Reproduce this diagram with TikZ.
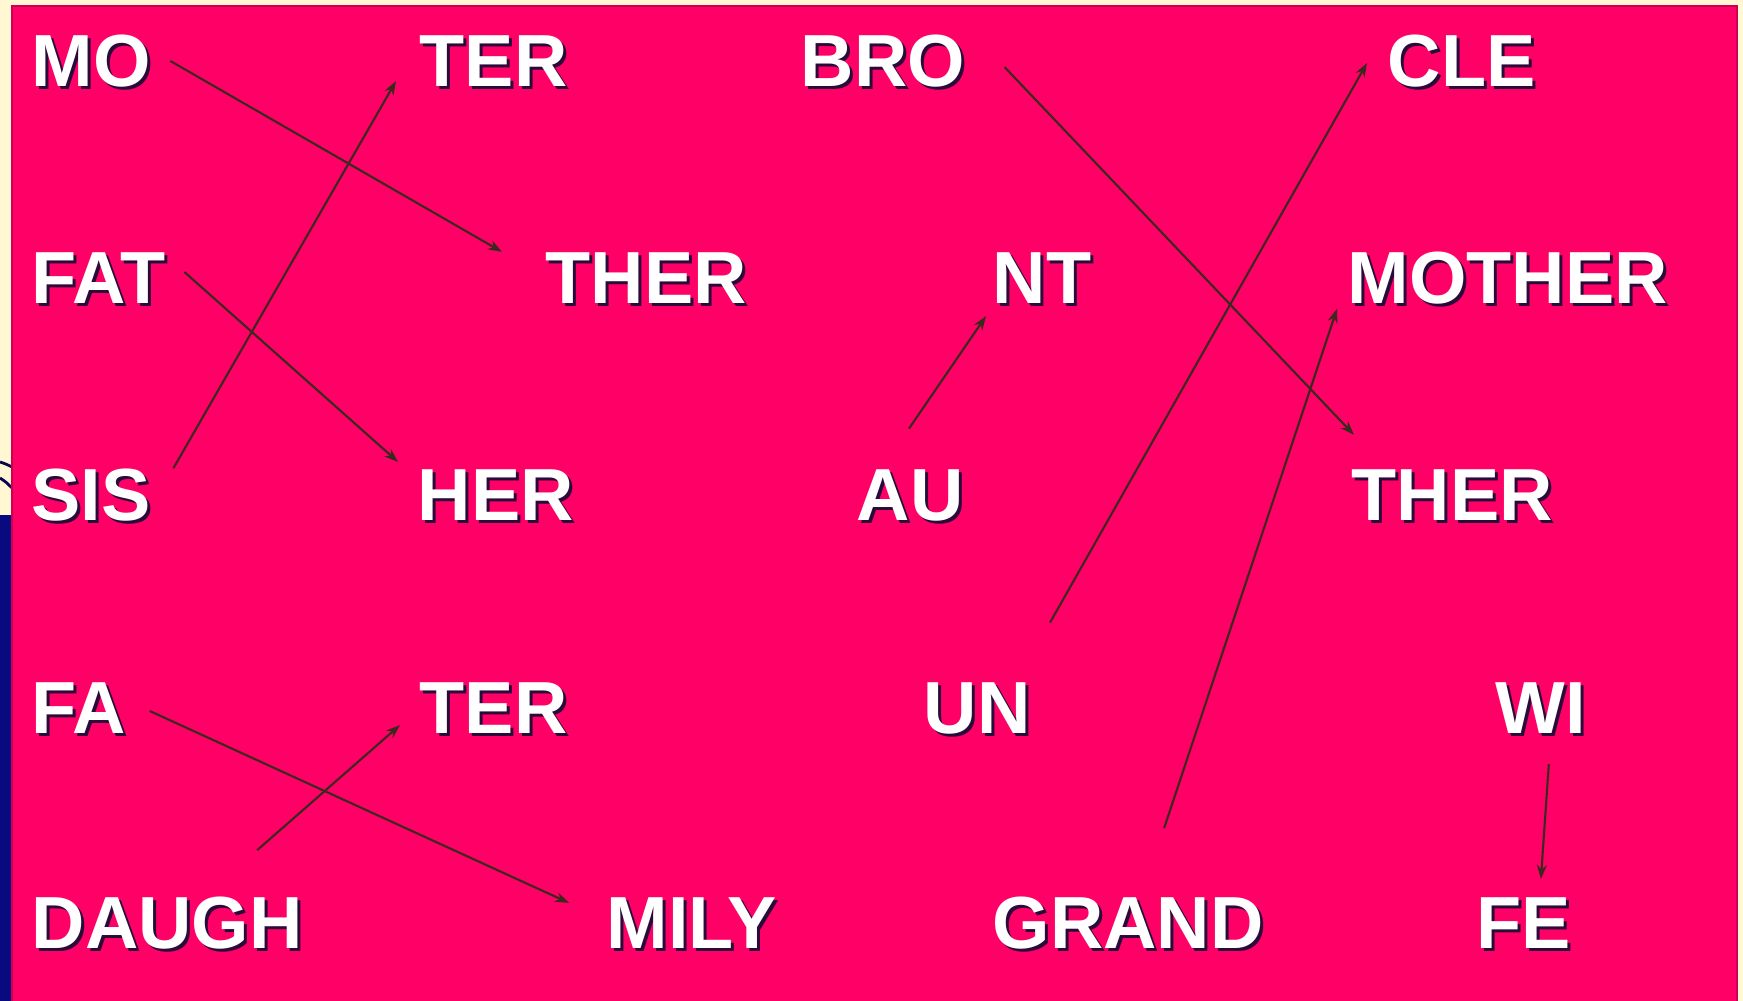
\documentclass[tikz,border=0pt]{standalone}
\usepackage{fontspec}
\setmainfont{Liberation Sans}
\usepackage{xcolor}
\usetikzlibrary{arrows.meta}

\definecolor{slidepink}{HTML}{FF0066}
\definecolor{slidecream}{HTML}{FFF8D2}
\definecolor{slidenavy}{HTML}{0A0A80}
\definecolor{inkbrown}{HTML}{3A2A1E}
\definecolor{dropshade}{HTML}{2A0A3A}

\begin{document}
\begin{tikzpicture}[x=0.01cm, y=-0.01cm,
  word/.style={anchor=west, inner sep=0pt, text=white, font=\fontsize{21}{24}\selectfont\bfseries},
  wordshade/.style={word, text=dropshade},
  link/.style={-{Stealth[length=1.4mm, width=1mm]}, line width=0.6pt, color=inkbrown},
]
\useasboundingbox (0,0) rectangle (1743,1001);

% slide background
\fill[slidecream] (0,0) rectangle (1743,1001);
\fill[slidenavy] (0,515) rectangle (14,1001);
\draw[slidenavy!60!black, line width=0.8pt] (0,462) .. controls (6,464) .. (14,468);
\draw[slidenavy!60!black, line width=0.8pt] (0,478) .. controls (6,482) .. (14,490);
\filldraw[fill=slidepink, draw=slidepink!80!black, line width=0.4pt] (12,6) rectangle (1737,1010);

% word pieces, with a drop shadow
\foreach \name/\x/\y/\txt in {mo/31/61/MO, ter1/419/61/TER, bro/800/61/BRO, cle/1387/61/CLE,
    fat/31/278/FAT, ther1/545/278/THER, nt/992/278/NT, mother/1347/278/MOTHER,
    sis/31/495/SIS, her/417/495/HER, au/856/495/AU, ther2/1351/495/THER,
    fa/31/708/FA, ter2/419/708/TER, un/923/708/UN, wi/1495/708/WI,
    daugh/31/923/DAUGH, mily/606/923/MILY, grand/992/923/GRAND, fe/1476/923/FE} {
  \node[wordshade] at (\x+3,\y+3) {\txt};
  \node[word] (\name) at (\x,\y) {\txt};
}

% matching lines
\draw[link] ([shift={(19,0)}]mo.east) -- ([shift={(-43,0)}]ther1.north west);
\draw[link] ([shift={(22,0)}]sis.north east) -- ([shift={(-23,-6)}]ter1.south west);
\draw[link] ([shift={(18,-6)}]fat.east) -- ([shift={(-19,-7)}]her.north west);
\draw[link] ([shift={(39,6)}]bro.east) -- ([shift={(3,-34)}]ther2.north west);
\draw[link] ([shift={(73,-59)}]un.north) -- ([shift={(-20,2)}]cle.west);
\draw[link] ([shift={(-1,-40)}]au.north) -- ([shift={(-6,12)}]nt.south west);
\draw[link] ([shift={(36,-68)}]grand.north) -- ([shift={(-10,4)}]mother.south west);
\draw[link] ([shift={(8,30)}]wi.south) -- ([shift={(17,-18)}]fe.north);
\draw[link] ([shift={(23,3)}]fa.east) -- ([shift={(-37,6)}]mily.north west);
\draw[link] ([shift={(-46,-46)}]daugh.north east) -- ([shift={(-19,-9)}]ter2.south west);

\end{tikzpicture}
\end{document}
